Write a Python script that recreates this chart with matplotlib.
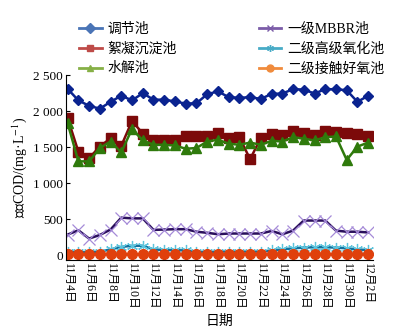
import matplotlib
matplotlib.use('Agg')
import matplotlib.pyplot as plt
from matplotlib.lines import Line2D

plt.rcParams['font.family'] = ['Liberation Serif', 'Noto Sans CJK SC', 'DejaVu Sans']
plt.rcParams['mathtext.fontset'] = 'stix'

# 日期标签（每两天一个）
tick_labels = ['11月4日', '11月6日', '11月8日', '11月10日', '11月12日', '11月14日',
               '11月16日', '11月18日', '11月20日', '11月22日', '11月24日', '11月26日',
               '11月28日', '11月30日', '12月2日']

names = ['调节池', '絮凝沉淀池', '水解池', '一级MBBR池', '二级高级氧化池', '二级接触好氧池']

tiaojie = [2310, 2150, 2075, 2035, 2130, 2215, 2150, 2250, 2160, 2160, 2135, 2105, 2110, 2235, 2275,
           2195, 2185, 2195, 2170, 2240, 2245, 2305, 2300, 2245, 2305, 2305, 2290, 2130, 2215]
xuning = [1905, 1440, 1350, 1510, 1625, 1520, 1865, 1690, 1600, 1595, 1595, 1650, 1660, 1660, 1705,
          1630, 1640, 1335, 1630, 1690, 1675, 1720, 1705, 1675, 1720, 1710, 1700, 1690, 1650]
shuijie = [1835, 1305, 1305, 1490, 1580, 1430, 1755, 1595, 1535, 1535, 1525, 1480, 1490, 1580, 1605,
           1550, 1535, 1565, 1535, 1590, 1580, 1640, 1620, 1595, 1640, 1650, 1325, 1510, 1565]
mbbr = [290, 350, 235, 285, 360, 525, 515, 515, 355, 360, 365, 365, 330, 315, 295,
        305, 305, 305, 305, 340, 295, 345, 485, 485, 485, 345, 330, 330, 320]
yanghua = [55, 45, 45, 55, 85, 120, 135, 135, 85, 75, 75, 70, 55, 45, 55,
           55, 55, 55, 55, 70, 85, 100, 110, 115, 115, 110, 100, 85, 75]
jiechu = [20, 20, 18, 20, 22, 20, 20, 18, 20, 22, 20, 18, 20, 20, 18,
          20, 20, 22, 20, 20, 18, 20, 20, 22, 20, 18, 20, 20, 20]

x = list(range(len(tiaojie)))

fig = plt.figure(figsize=(4.05, 3.31), dpi=100)
ax = fig.add_axes([0.163, 0.2145, 0.758, 0.5585])

ax.plot(x, tiaojie, color='#0a2390', lw=1.8, marker='D', ms=5, mec='#0a2390', mfc='#0a2390')
ax.plot(x, xuning, color='#7c0a0a', lw=1.8, marker='s', ms=7.5, mec='#7c0a0a', mfc='#7c0a0a')
ax.plot(x, shuijie, color='#2f7a0c', lw=1.8, marker='^', ms=7.5, mec='#2f7a0c', mfc='#2f7a0c')
ax.plot(x, mbbr, color='#2a0f5c', lw=1.8, marker='x', ms=8, mec='#a58ad8', mew=0.9)
ax.plot(x, yanghua, color='#14719e', lw=1.8, marker=(6, 2, 0), ms=8, mec='#5cc4dc', mew=0.9)
ax.plot(x, jiechu, color='#e0400c', lw=1.8, marker='o', ms=7, mec='#e0400c', mfc='#e0400c')

ax.set_xlim(-0.15, 28.45)
ax.set_ylim(-62, 2500)
ax.set_yticks([0, 500, 1000, 1500, 2000, 2500])
ax.set_yticklabels(['0', '500', '1 000', '1 500', '2 000', '2 500'], fontsize=9.5)
ax.set_xticks(x[::2])
ax.set_xticklabels(tick_labels, rotation=-90, fontsize=8.5)
ax.tick_params(direction='in', length=3, width=0.8, pad=2)
for s in ['top', 'right']:
    ax.spines[s].set_visible(False)

ax.set_ylabel('出水COD/(mg·L$^{-1}$)', fontsize=10, labelpad=3)
ax.set_xlabel('日期', fontsize=10, labelpad=4)

leg_colors = ['#4a74b6', '#be4b48', '#86b046', '#7b5ca8', '#48abc6', '#f08b3c']
leg_markers = ['D', 's', '^', 'x', (6, 2, 0), 'o']
handles = [Line2D([], [], color=c, lw=2, marker=m, ms=5, mfc=c, mec=c)
           for c, m in zip(leg_colors, leg_markers)]
fig.legend(handles, names, ncol=2,
           loc='upper left', bbox_to_anchor=(0.165, 0.97), frameon=False,
           fontsize=10, handlelength=1.6, handletextpad=0.4, columnspacing=5.95,
           labelspacing=0.48)

fig.savefig('out.png', dpi=100)
